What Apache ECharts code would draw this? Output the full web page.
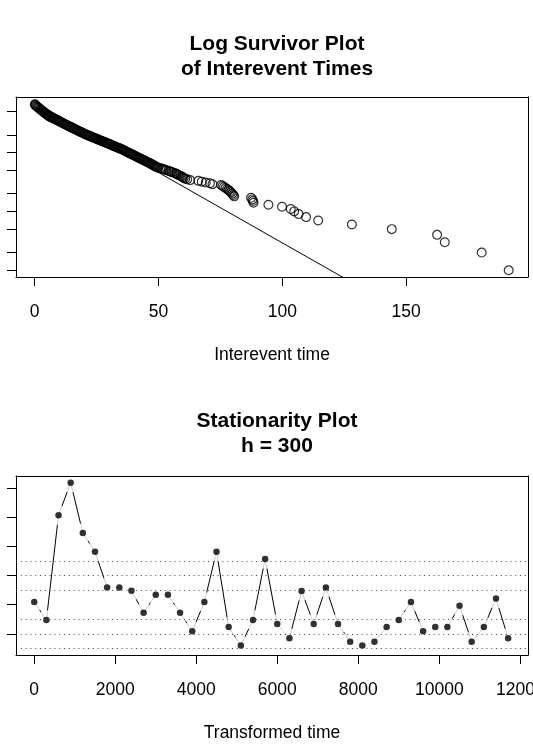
<!DOCTYPE html>
<html>
<head>
<meta charset="utf-8">
<script src="https://cdn.jsdelivr.net/npm/echarts@6/dist/echarts.min.js"></script>
<style>
html,body{margin:0;padding:0;background:#fff;}
#chart{width:533px;height:748px;}
</style>
</head>
<body>
<div id="chart"></div>
<script>
// ---------- Log survivor plot data ----------
const survTime = [
  0.1, 0.25, 0.4, 0.7, 1.0, 1.3, 1.6, 1.9, 2.2, 2.5, 2.8, 3.1, 3.4, 3.72, 4.05, 4.38, 4.7, 5.02,
  5.35, 5.68, 6.0, 6.34, 6.68, 7.02, 7.37, 7.71, 8.05, 8.39, 8.73, 9.07, 9.42, 9.76, 10.1, 10.5,
  10.9, 11.3, 11.7, 12.1, 12.5, 12.9, 13.3, 13.7, 14.1, 14.48, 14.87, 15.25, 15.64, 16.02, 16.41,
  16.8, 17.19, 17.57, 17.96, 18.34, 18.73, 19.11, 19.5, 19.88, 20.27, 20.65, 21.04, 21.42, 21.81,
  22.2, 22.59, 22.97, 23.36, 23.74, 24.13, 24.51, 24.9, 25.28, 25.66, 26.03, 26.41, 26.79, 27.17,
  27.55, 27.93, 28.31, 28.69, 29.06, 29.44, 29.82, 30.2, 30.58, 30.97, 31.35, 31.74, 32.12, 32.51,
  32.9, 33.29, 33.67, 34.06, 34.44, 34.83, 35.21, 35.6, 35.98, 36.37, 36.75, 37.14, 37.52, 37.91,
  38.3, 38.69, 39.07, 39.46, 39.84, 40.23, 40.61, 41.0, 41.38, 41.77, 42.15, 42.54, 42.92, 43.31,
  43.7, 44.09, 44.47, 44.86, 45.24, 45.63, 46.01, 46.4, 46.76, 47.12, 47.48, 47.84, 48.2, 48.56,
  48.92, 49.28, 49.64,
  50.0, 50.9, 51.5, 52.0, 52.7, 53.1, 54.0, 54.5, 55.1, 55.6, 56.5, 56.9, 57.4, 57.9, 58.3,
  59.0, 59.4, 59.8, 60.2, 60.8, 61.6, 62.8, 66.1, 67.5, 69.1, 70.8, 71.8, 75.3, 75.9, 76.5,
  77.1, 77.7, 78.3, 78.9, 79.3, 79.8, 80.2, 80.6, 87.4, 87.9, 88.2, 88.4, 94.4, 99.9, 103.4,
  104.8, 106.6, 109.6, 114.5, 128.1, 144.2, 162.5, 165.6, 180.5, 191.4
];
const survProb = [
  0.66, 0.645, 0.630, 0.615, 0.601, 0.587, 0.573, 0.560, 0.547, 0.534, 0.521, 0.509, 0.498, 0.486,
  0.474, 0.462, 0.451, 0.440, 0.430, 0.419, 0.409, 0.402, 0.396, 0.390, 0.384, 0.378, 0.372, 0.365,
  0.359, 0.353, 0.348, 0.342, 0.337, 0.330, 0.324, 0.317, 0.311, 0.305, 0.299, 0.293, 0.288, 0.282,
  0.277, 0.272, 0.267, 0.262, 0.257, 0.252, 0.248, 0.243, 0.239, 0.234, 0.230, 0.226, 0.222, 0.218,
  0.214, 0.210, 0.207, 0.203, 0.200, 0.197, 0.195, 0.191, 0.188, 0.185, 0.182, 0.179, 0.177, 0.174,
  0.171, 0.168, 0.166, 0.163, 0.161, 0.158, 0.156, 0.154, 0.152, 0.150, 0.148, 0.145, 0.143, 0.141,
  0.139, 0.137, 0.135, 0.132, 0.130, 0.128, 0.126, 0.124, 0.122, 0.120, 0.119, 0.117, 0.115, 0.113,
  0.111, 0.109, 0.107, 0.105, 0.103, 0.101, 0.0993, 0.0975, 0.0957, 0.094, 0.0923, 0.0905, 0.0887,
  0.0871, 0.0855, 0.0839, 0.0824, 0.0809, 0.0794, 0.078, 0.0766, 0.0752, 0.0738, 0.0724, 0.0711,
  0.0698, 0.0686, 0.0673, 0.0661, 0.0648, 0.0635, 0.0623, 0.0611, 0.0599, 0.0587, 0.0576, 0.0565,
  0.0557,
  0.055, 0.054, 0.053, 0.052, 0.051, 0.050, 0.049, 0.048, 0.047, 0.046, 0.045, 0.044, 0.043, 0.042, 0.041,
  0.040, 0.039, 0.038, 0.037, 0.036, 0.035, 0.034, 0.033, 0.032, 0.031, 0.030, 0.029, 0.028, 0.027, 0.026,
  0.025, 0.024, 0.023, 0.022, 0.021, 0.020, 0.019, 0.018, 0.017, 0.016, 0.015, 0.014, 0.013, 0.012, 0.011,
  0.010, 0.009, 0.008, 0.007, 0.006, 0.005, 0.004, 0.003, 0.002, 0.001
];
const fitTime = [0, 130];
const fitProb = [0.718, 0.000561];
const survXTicks = [0, 50, 100, 150];
const survYTicks = [0.5, 0.2, 0.1, 0.05, 0.02, 0.01, 0.005, 0.002, 0.001];

// ---------- Stationarity plot data ----------
const statTime = [0, 300, 600, 900, 1200, 1500, 1800, 2100, 2400, 2700, 3000, 3300, 3600, 3900,
  4200, 4500, 4800, 5100, 5400, 5700, 6000, 6300, 6600, 6900, 7200, 7500, 7800, 8100, 8400,
  8700, 9000, 9300, 9600, 9900, 10200, 10500, 10800, 11100, 11400, 11700];
const statValue = [2.09, 1.47, 5.07, 6.19, 4.46, 3.82, 2.59, 2.59, 2.48, 1.72, 2.34, 2.34, 1.72,
  1.09, 2.09, 3.82, 1.23, 0.60, 1.47, 3.57, 1.34, 0.85, 2.47, 1.34, 2.59, 1.34, 0.73, 0.60,
  0.73, 1.23, 1.47, 2.09, 1.09, 1.23, 1.23, 1.96, 0.73, 1.23, 2.21, 0.85];
const statXTicks = [0, 2000, 4000, 6000, 8000, 10000, 12000];
const statYTicks = [1, 2, 3, 4, 5, 6];
const statBands = [0.5, 1, 1.5, 2.5, 3, 3.5];

const FONT = 'Liberation Sans, Arial, Helvetica, sans-serif';

function pairs(xs, ys) { return xs.map((x, i) => [x, ys[i]]); }

function mainX(gridIndex, min, max, ticks, name) {
  return {
    type: 'value', gridIndex, min, max, position: 'bottom', z: 10,
    axisLine: { show: true, onZero: false, lineStyle: { color: '#000', width: 1 } },
    axisTick: { show: true, inside: false, length: 9, customValues: ticks, lineStyle: { color: '#000', width: 1 } },
    axisLabel: { show: true, customValues: ticks, margin: 26, color: '#000', fontSize: 17.5, fontFamily: FONT,
      hideOverlap: false, formatter: v => String(v) },
    splitLine: { show: false },
    name, nameLocation: 'middle', nameGap: 69,
    nameTextStyle: { color: '#000', fontSize: 17.5, fontFamily: FONT }
  };
}
function boxX(gridIndex, min, max) {
  return {
    type: 'value', gridIndex, min, max, position: 'top', z: 10,
    axisLine: { show: true, onZero: false, lineStyle: { color: '#000', width: 1 } },
    axisTick: { show: false }, axisLabel: { show: false }, splitLine: { show: false }
  };
}
function mainY(gridIndex, type, min, max, ticks) {
  return {
    type, gridIndex, min, max, position: 'left', z: 10,
    axisLine: { show: true, onZero: false, lineStyle: { color: '#000', width: 1 } },
    axisTick: { show: true, inside: false, length: 9, customValues: ticks, lineStyle: { color: '#000', width: 1 } },
    axisLabel: { show: false },
    splitLine: { show: false }
  };
}
function boxY(gridIndex, type, min, max) {
  return {
    type, gridIndex, min, max, position: 'right', z: 10,
    axisLine: { show: true, onZero: false, lineStyle: { color: '#000', width: 1 } },
    axisTick: { show: false }, axisLabel: { show: false }, splitLine: { show: false }
  };
}

const chart = echarts.init(document.getElementById('chart'), null, { renderer: 'canvas' });
chart.setOption({
  animation: false,
  backgroundColor: '#fff',
  title: [
    { text: 'Log Survivor Plot\nof Interevent Times', left: 272, top: 27, textAlign: 'center',
      textStyle: { fontFamily: FONT, fontWeight: 'bold', fontSize: 21, lineHeight: 24.5, color: '#000' } },
    { text: 'Stationarity Plot\nh = 300', left: 272, top: 403, textAlign: 'center',
      textStyle: { fontFamily: FONT, fontWeight: 'bold', fontSize: 21, lineHeight: 25.5, color: '#000' } }
  ],
  grid: [
    { left: 16, top: 97, width: 512, height: 180, containLabel: false, outerBoundsMode: 'none' },
    { left: 16, top: 476, width: 512, height: 179, containLabel: false, outerBoundsMode: 'none' }
  ],
  xAxis: [
    mainX(0, -7.5, 199.2, survXTicks, 'Interevent time'),
    boxX(0, -7.5, 199.2),
    mainX(1, -450, 12190, statXTicks, 'Transformed time'),
    boxX(1, -450, 12190)
  ],
  yAxis: [
    mainY(0, 'log', 0.00077, 0.875, survYTicks),
    boxY(0, 'log', 0.00077, 0.875),
    mainY(1, 'value', 0.272, 6.418, statYTicks),
    boxY(1, 'value', 0.272, 6.418)
  ],
  series: [
    { type: 'line', xAxisIndex: 0, yAxisIndex: 0, data: pairs(fitTime, fitProb), showSymbol: false,
      symbol: 'none', clip: true, lineStyle: { color: '#000', width: 1 }, z: 2, silent: true },
    { type: 'scatter', xAxisIndex: 0, yAxisIndex: 0, data: pairs(survTime, survProb), symbol: 'circle',
      symbolSize: 8.8, itemStyle: { color: 'rgba(0,0,0,0)', borderColor: '#000', borderWidth: 1.2 }, z: 3, silent: true },

    { type: 'line', xAxisIndex: 2, yAxisIndex: 2, data: pairs(statTime, statValue), showSymbol: false,
      symbol: 'none', lineStyle: { color: '#000', width: 1 }, z: 1, silent: true },
    { type: 'scatter', xAxisIndex: 2, yAxisIndex: 2, data: pairs(statTime, statValue), symbol: 'circle',
      symbolSize: 20, itemStyle: { color: '#fff' }, z: 2, silent: true },
    { type: 'scatter', xAxisIndex: 2, yAxisIndex: 2, data: pairs(statTime, statValue), symbol: 'circle',
      symbolSize: 6.5, itemStyle: { color: '#000' }, z: 4, silent: true,
      markLine: { silent: true, symbol: 'none', label: { show: false },
        lineStyle: { color: '#444', width: 1, type: [1, 3.8] },
        data: statBands.map(v => ({ yAxis: v })) } }
  ]
});
</script>
</body>
</html>
